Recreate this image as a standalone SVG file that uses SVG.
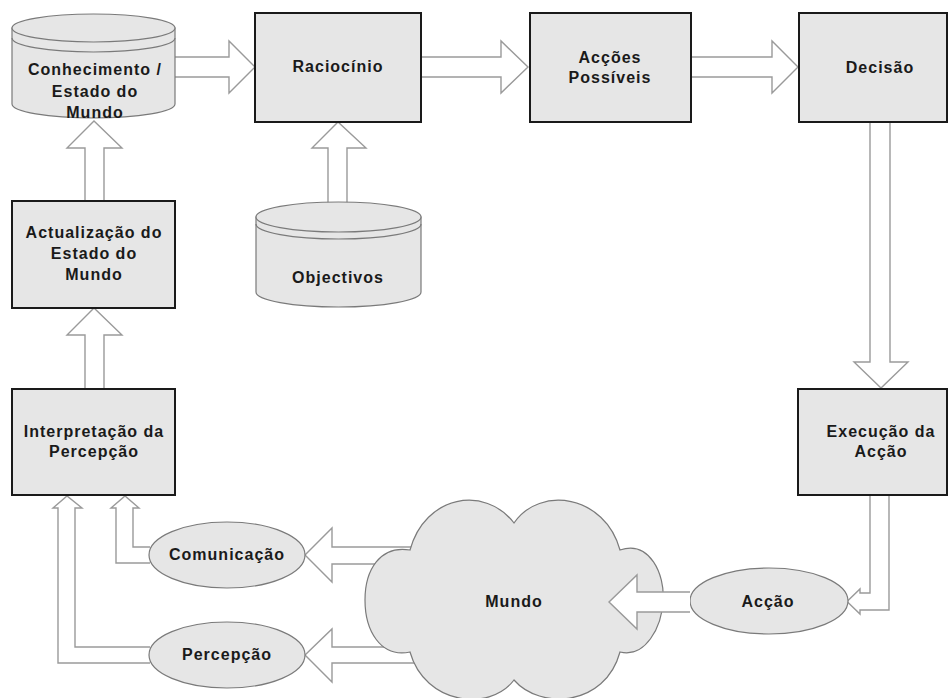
<svg xmlns="http://www.w3.org/2000/svg" width="950" height="698" viewBox="0 0 950 698">
  <style>
    .box { fill: #e6e6e6; stroke: #1a1a1a; stroke-width: 2; }
    .soft { fill: #e6e6e6; stroke: #7a7a7a; stroke-width: 1.2; }
    .line { fill: none; stroke: #7a7a7a; stroke-width: 1.2; }
    .arrow { fill: #ffffff; stroke: #9a9a9a; stroke-width: 1.4; stroke-linejoin: miter; }
    text { font-family: "Liberation Sans", Arial, sans-serif; font-size: 16px; font-weight: bold; fill: #1a1a1a; text-anchor: middle; letter-spacing: 1px; }
  </style>
  <rect width="950" height="698" fill="#ffffff"/>

  <!-- block arrows between the stages -->
  <g id="connectors">
    <!-- Conhecimento -> Raciocínio -->
    <path class="arrow" d="M175,57 H229 V41 L255,67 L229,93 V77 H175"/>
    <!-- Raciocínio -> Acções Possíveis -->
    <path class="arrow" d="M421,57 H501 V41 L528,67 L501,93 V77 H421"/>
    <!-- Acções Possíveis -> Decisão -->
    <path class="arrow" d="M691,57 H772 V41 L798,67 L772,93 V77 H691"/>
    <!-- Decisão -> Execução da Acção -->
    <path class="arrow" d="M870,122 V362 H854 L881,388 L908,362 H890 V122"/>
    <!-- Execução da Acção -> Acção -->
    <path class="arrow" d="M870,495 V593 H860 V589 L847,601.5 L860,614 V610 H889 V495"/>
    <!-- Objectivos -> Raciocínio -->
    <path class="arrow" d="M328,205 V148 H312 L338,122 L366,148 H347 V205"/>
    <!-- Actualização -> Conhecimento -->
    <path class="arrow" d="M85,201 V148 H67 L94,121 L122,148 H104 V201"/>
    <!-- Interpretação -> Actualização -->
    <path class="arrow" d="M85,389 V335 H67 L94,308 L122,335 H104 V389"/>
    <!-- Mundo -> Comunicação -->
    <path class="arrow" d="M420,547 H332 V528 L305,555 L332,582 V564 H420"/>
    <!-- Mundo -> Percepção -->
    <path class="arrow" d="M420,647 H332 V629 L305,655 L332,682 V663 H420"/>
    <!-- Comunicação -> Interpretação -->
    <path class="arrow" d="M150,547 H133 V508 H139 L125,496 L111,508 H116 V563 H150"/>
    <!-- Percepção -> Interpretação -->
    <path class="arrow" d="M150,647 H75 V508 H82 L67,496 L53,508 H58 V663 H150"/>
  </g>

  <g id="conhecimento">
    <path class="soft" d="M12,28 V104 A81.5,14 0 0 0 175,104 V28 Z"/>
    <ellipse class="soft" cx="93.5" cy="28" rx="81.5" ry="14"/>
    <path class="line" d="M12,38 A81.5,14 0 0 0 175,38"/>
    <text x="95" y="75">Conhecimento /</text>
    <text x="95" y="97">Estado do</text>
    <text x="95" y="118">Mundo</text>
  </g>

  <g id="raciocinio">
    <rect class="box" x="255" y="13" width="166" height="109"/>
    <text x="338" y="72">Raciocínio</text>
  </g>

  <g id="accoes-possiveis">
    <rect class="box" x="530" y="13" width="161" height="109"/>
    <text x="610" y="63">Acções</text>
    <text x="610" y="83">Possíveis</text>
  </g>

  <g id="decisao">
    <rect class="box" x="799" y="13" width="148" height="109"/>
    <text x="880" y="73">Decisão</text>
  </g>

  <g id="objectivos">
    <path class="soft" d="M256,217 V292 A82.5,15 0 0 0 421,292 V217 Z"/>
    <ellipse class="soft" cx="338.5" cy="217" rx="82.5" ry="15"/>
    <path class="line" d="M256,224 A82.5,15 0 0 0 421,224"/>
    <text x="338" y="283">Objectivos</text>
  </g>

  <g id="actualizacao">
    <rect class="box" x="12" y="201" width="163" height="107"/>
    <text x="94" y="238">Actualização do</text>
    <text x="94" y="259">Estado do</text>
    <text x="94" y="280">Mundo</text>
  </g>

  <g id="interpretacao">
    <rect class="box" x="12" y="389" width="163" height="106"/>
    <text x="94" y="437">Interpretação da</text>
    <text x="94" y="457">Percepção</text>
  </g>

  <g id="execucao">
    <rect class="box" x="798" y="389" width="149" height="106"/>
    <text x="881" y="437">Execução da</text>
    <text x="881" y="457">Acção</text>
  </g>

  <g id="comunicacao">
    <ellipse class="soft" cx="227" cy="555" rx="78" ry="33"/>
    <text x="227" y="560">Comunicação</text>
  </g>

  <g id="percepcao">
    <ellipse class="soft" cx="227" cy="655" rx="78" ry="33"/>
    <text x="227" y="660">Percepção</text>
  </g>

  <g id="mundo">
    <path class="soft" d="M410,550 C425,495 485,485 514,523 C540,485 605,495 620,550 C650,540 665,575 663,600 C662,628 645,658 620,652 C605,707 540,710 514,680 C490,712 425,705 410,652 C380,658 365,630 365,600 C365,570 380,545 410,550 Z"/>
    <text x="514" y="607">Mundo</text>
  </g>

  <g id="accao">
    <ellipse class="soft" cx="769" cy="601" rx="79" ry="33"/>
    <text x="768" y="607">Acção</text>
  </g>

  <!-- Acção -> Mundo sits over the cloud -->
  <g id="connector-accao-mundo">
    <path class="arrow" d="M690,592 H637 V575 L609,602 L637,629 V612 H690"/>
  </g>
</svg>
